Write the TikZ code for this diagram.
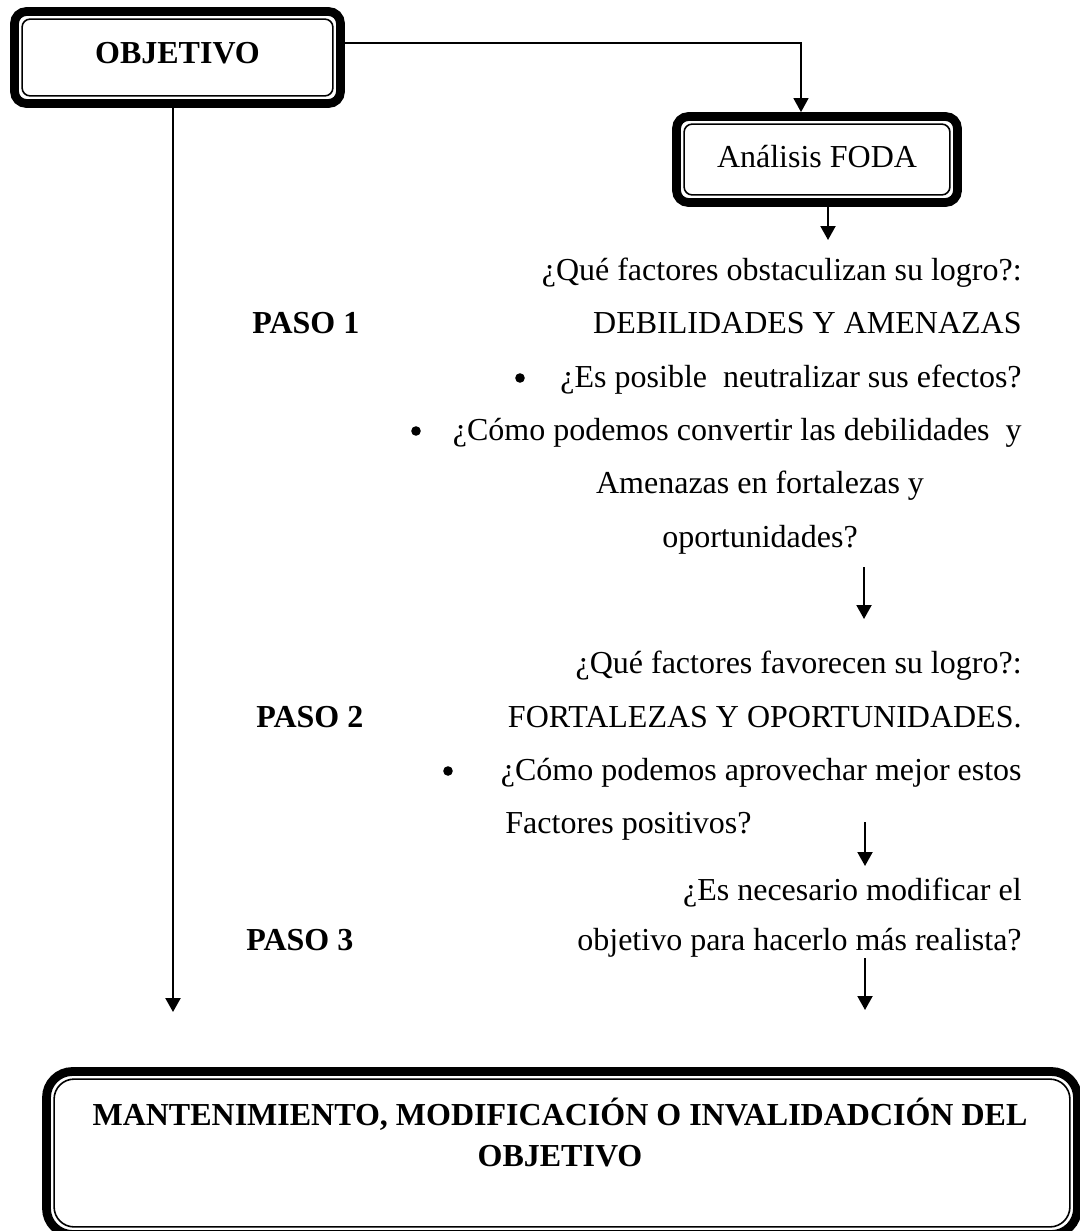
\documentclass[tikz,border=0pt]{standalone}
\usepackage{fontspec}
\setmainfont{Liberation Serif}
\usetikzlibrary{arrows.meta}

\tikzset{
  txt/.style={inner sep=0pt, font=\fontsize{16pt}{18pt}\selectfont},
  boldtxt/.style={inner sep=0pt, font=\fontsize{16pt}{18pt}\selectfont\bfseries},
  bullet/.style={circle, fill=black, inner sep=0pt, minimum size=4.8pt},
  arr/.style={line width=1pt, -{Triangle[width=7.5pt,length=7pt]}},
  conn/.style={line width=0.75pt, -{Triangle[width=7.5pt,length=7pt]}},
  % thick outer frame with a thin inner rule
  framebox/.style n args={3}{draw, line width=4.4pt, rounded corners=#1, inner sep=0pt, fill=white,
    path picture={\draw[line width=0.8pt, rounded corners=#2]
      ([shift={(#3,#3)}]path picture bounding box.south west) rectangle
      ([shift={(-#3,-#3)}]path picture bounding box.north east);}},
}

\begin{document}
\begin{tikzpicture}[x=0.5pt, y=-0.5pt]
  \path[use as bounding box, clip] (0,0) rectangle (1080,1231);
  \fill[white] (0,0) rectangle (1080,1231);

  % boxes
  \node[framebox={6pt}{4pt}{3.8pt}, minimum width=163pt, minimum height=46pt,
        boldtxt, text height=10.6pt, text depth=5pt] (obj) at (177.5,57.5) {OBJETIVO};
  \node[framebox={6pt}{4pt}{3.8pt}, minimum width=140.5pt, minimum height=43pt,
        txt, text height=11pt, text depth=3.5pt] (foda) at (817,159.5) {Análisis FODA};
  \node[framebox={13pt}{10pt}{3.8pt}, minimum width=515.5pt, minimum height=81.5pt] (fin) at (562,1153) {};
  \node[boldtxt, font=\fontsize{16pt}{20.5pt}\selectfont\bfseries, align=center, anchor=north] (fintxt) at (560,1098)
       {MANTENIMIENTO, MODIFICACIÓN O INVALIDADCIÓN DEL\\OBJETIVO};

  % step 1
  \node[txt, anchor=base east] (q1) at (1022,280) {¿Qué factores obstaculizan su logro?:};
  \node[boldtxt, anchor=base west] (p1) at (252,333) {PASO 1};
  \node[txt, anchor=base east] (deb) at (1022,333) {DEBILIDADES Y AMENAZAS};
  \node[bullet] (d1) at (520,378) {};
  \node[txt, anchor=base east] (e1) at (1022,387) {¿Es posible\ \ neutralizar sus efectos?};
  \node[bullet] (d2) at (416,431) {};
  \node[txt, anchor=base east] (e2) at (1022,440) {¿Cómo podemos convertir las debilidades\ \ y};
  \node[txt, anchor=base] (am) at (760,493) {Amenazas en fortalezas y};
  \node[txt, anchor=base] (op) at (760,547) {oportunidades?};

  % step 2
  \node[txt, anchor=base east] (q2) at (1022,673) {¿Qué factores favorecen su logro?:};
  \node[boldtxt, anchor=base west] (p2) at (256,727) {PASO 2};
  \node[txt, anchor=base east] (fort) at (1022,727) {FORTALEZAS Y OPORTUNIDADES.};
  \node[bullet] (d3) at (448,771) {};
  \node[txt, anchor=base east] (e3) at (1022,780) {¿Cómo podemos aprovechar mejor estos};
  \node[txt, anchor=base west] (fp) at (505,833) {Factores positivos?};

  % step 3
  \node[txt, anchor=base east] (q3) at (1022,900) {¿Es necesario modificar el};
  \node[boldtxt, anchor=base west] (p3) at (246,950) {PASO 3};
  \node[txt, anchor=base east] (real) at (1022,950) {objetivo para hacerlo más realista?};

  % connectors
  \coordinate (k) at (801,43);
  \draw[conn] (obj.east |- k) -- (k) -- (k |- foda.north);

  \coordinate (f1) at (828,240);
  \draw[arr] (foda.south -| f1) -- (f1);

  \coordinate (a2s) at (864,567);
  \coordinate (a2e) at (864,619);
  \draw[arr] (a2s) -- (a2e);

  \coordinate (a3s) at (865,822);
  \coordinate (a3e) at (865,866);
  \draw[arr] (a3s) -- (a3e);

  \coordinate (a4s) at (865,958);
  \coordinate (a4e) at (865,1010);
  \draw[arr] (a4s) -- (a4e);

  \coordinate (lt) at (173,1012);
  \draw[arr, line width=1.2pt] (obj.south -| lt) -- (lt);
\end{tikzpicture}
\end{document}
